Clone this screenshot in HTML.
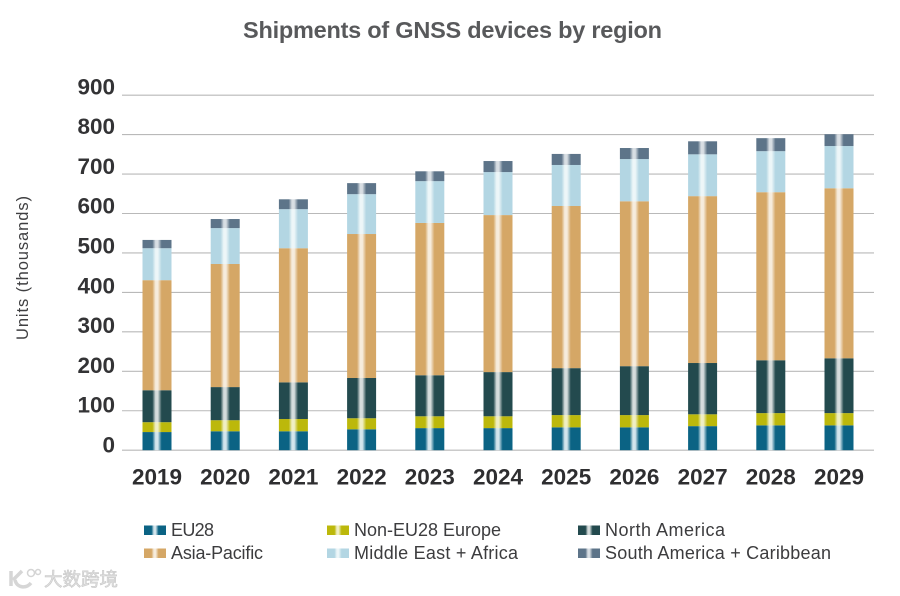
<!DOCTYPE html>
<html lang="en">
<head>
<meta charset="utf-8">
<title>Shipments of GNSS devices by region</title>
<style>
html,body{margin:0;padding:0;background:#fff;width:900px;height:596px;overflow:hidden}
svg{display:block}
text{font-family:"Liberation Sans","Noto Sans CJK SC",sans-serif}
</style>
</head>
<body>
<svg id="chart" xmlns="http://www.w3.org/2000/svg" width="900" height="596" viewBox="0 0 900 596">
  <defs id="defs"></defs>
  <text x="452.5" y="38" text-anchor="middle" font-size="23.5" font-weight="700" fill="#58595b" textLength="419" lengthAdjust="spacing">Shipments of GNSS devices by region</text>
  <text transform="translate(28,268) rotate(-90)" text-anchor="middle" font-size="16.5" fill="#3f3f41" textLength="144" lengthAdjust="spacing">Units (thousands)</text>
  <g id="grid"></g>
  <g id="yticks"></g>
  <g id="bars"></g>
  <g id="xticks"></g>
  <g id="legend"></g>
  <g>
    <path d="M11 571 v15 M13 580 l9 -9 M15 580 c2 8 11 9 16 3" fill="none" stroke="#d6d6d6" stroke-width="3.5"></path>
    <circle cx="31" cy="573" r="3.5" fill="none" stroke="#d4d4d4" stroke-width="1.5"></circle>
    <circle cx="38" cy="572" r="2.5" fill="none" stroke="#d4d4d4" stroke-width="1.5"></circle>
    <text x="44" y="586" font-size="18.5" fill="#e2e2e2" stroke="#c8c8c8" stroke-width="0.6">大数跨境</text>
  </g>
</svg>
<script>
const years = [2019, 2020, 2021, 2022, 2023, 2024, 2025, 2026, 2027, 2028, 2029];
const tickLabels = [0, 100, 200, 300, 400, 500, 600, 700, 800, 900];
const seriesNames = ['EU28', 'Non-EU28 Europe', 'North America', 'Asia-Pacific', 'Middle East + Africa', 'South America + Caribbean'];
const eu28 = [46, 48, 48, 53, 56, 56, 58, 58, 61, 63, 63];
const nonEu28 = [25, 28, 31, 28, 30, 30, 31, 31, 30, 31, 31];
const northAmerica = [81, 84, 93, 102, 104, 112, 119, 124, 130, 134, 139];
const asiaPacific = [279, 312, 340, 365, 386, 398, 411, 418, 423, 426, 431];
const middleEastAfrica = [81, 91, 99, 101, 106, 109, 104, 107, 106, 104, 107];
const southAmericaCaribbean = [21, 23, 25, 28, 25, 28, 28, 28, 33, 33, 30];
const seriesValues = [eu28, nonEu28, northAmerica, asiaPacific, middleEastAfrica, southAmericaCaribbean];

const NS = 'http://www.w3.org/2000/svg';
const colors = ['#0b6384', '#bcb80b', '#234a4e', '#d5a766', '#b3d6e3', '#5d7489'];
const highlights = ['#d3e5ec', '#f0efc4', '#d5dcdc', '#f6ecdd', '#edf6f8', '#d8dee3'];
const slugs = ['eu28', 'non-eu28-europe', 'north-america', 'asia-pacific', 'middle-east-africa', 'south-america-caribbean'];
const legendWidths = [43, 147, 120, 92, 164, 226];

function yScale(v) { return 450.2 - v * 0.3945; }
function xScale(i) { return 157 + i * 68.2; }
function labelY(v) { return 452.5 - v * 0.398; }

function mk(tag, attrs, parent, txt) {
  const el = document.createElementNS(NS, tag);
  for (const k in attrs) el.setAttribute(k, attrs[k]);
  if (txt !== undefined) el.textContent = txt;
  parent.appendChild(el);
  return el;
}

const defs = document.getElementById('defs');
colors.forEach(function (c, i) {
  const g = mk('linearGradient', { id: 'grad' + i, x1: '0', x2: '1', y1: '0', y2: '0' }, defs);
  mk('stop', { offset: '0.34', 'stop-color': c }, g);
  mk('stop', { offset: '0.45', 'stop-color': highlights[i] }, g);
  mk('stop', { offset: '0.53', 'stop-color': highlights[i] }, g);
  mk('stop', { offset: '0.66', 'stop-color': c }, g);
});

const grid = document.getElementById('grid');
const yticks = document.getElementById('yticks');
tickLabels.forEach(function (t) {
  const line = mk('line', { x1: 122, x2: 874, y1: yScale(t), y2: yScale(t), stroke: '#b9b9b9', 'stroke-width': 1.1 }, grid);
  
  
  const label = mk('text', { x: 115, y: labelY(t), 'text-anchor': 'end', 'font-size': 22.5, 'font-weight': 700, fill: '#333335' }, yticks, t);
  
  
});

const barsG = document.getElementById('bars');
const xticks = document.getElementById('xticks');
years.forEach(function (yr, i) {
  let cum = 0;
  const group = mk('g', {}, barsG);
  
  
  seriesValues.forEach(function (vals, s) {
    const top = yScale(cum + vals[i]);
    const bottom = yScale(cum);
    const r = mk('rect', { x: xScale(i) - 14.5, y: top, width: 29, height: bottom - top, fill: 'url(#grad' + s + ')' }, group);
    
    
    cum += vals[i];
  });
  const label = mk('text', { x: xScale(i), y: 484.5, 'text-anchor': 'middle', 'font-size': 22.5, 'font-weight': 700, fill: '#2e2e30' }, xticks, yr);
  
  
});

const legend = document.getElementById('legend');
const legendCols = [144, 327, 578];
const legendRows = [530, 553];
seriesNames.forEach(function (name, i) {
  const col = i % 3;
  const row = Math.floor(i / 3);
  const entry = mk('g', {}, legend);
  
  
  const sw = mk('rect', { x: legendCols[col], y: legendRows[row] - 4.5, width: 22, height: 9.5, fill: 'url(#grad' + i + ')' }, entry);
  
  
  const t = mk('text', { x: legendCols[col] + 27, y: legendRows[row] + 6, 'font-size': 18, fill: '#3c3c3e', textLength: legendWidths[i], lengthAdjust: 'spacing' }, entry, name);
  
  
});
</script>
</body>
</html>
